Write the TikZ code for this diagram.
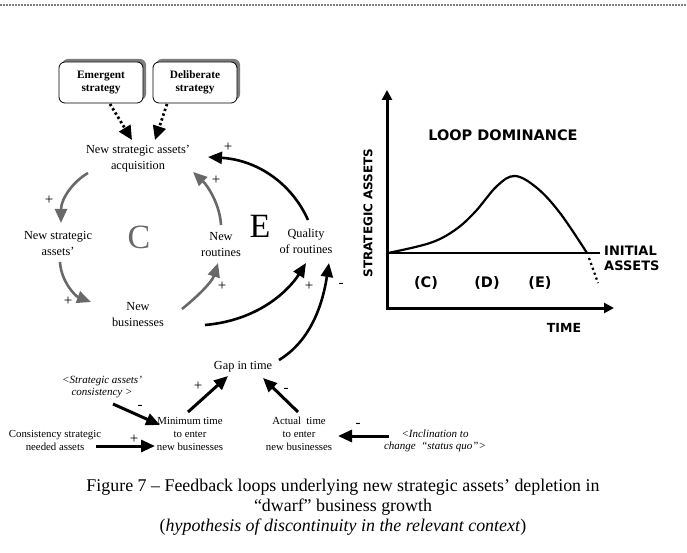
\documentclass[tikz,border=0pt]{standalone}
\usepackage{fontspec}
\setmainfont{Liberation Serif}
\newfontfamily\graphfont{DejaVu Sans}
\usetikzlibrary{arrows.meta}
\definecolor{loopgray}{RGB}{105,105,105}
\definecolor{shadowgray}{RGB}{125,125,125}
\tikzset{
  lbl/.style={align=center, inner sep=0pt, font=\fontsize{12.3}{16}\selectfont},
  small/.style={align=center, inner sep=0pt, font=\fontsize{10.8}{13}\selectfont},
  ital/.style={align=center, inner sep=0pt, font=\fontsize{11}{12.5}\selectfont\itshape},
  sign/.style={inner sep=0pt, font=\fontsize{15}{16}\selectfont},
  stratbox/.style={draw, thick, fill=white, rounded corners=6pt, minimum width=84pt,
    minimum height=41pt, align=center, inner sep=0pt, font=\fontsize{11.3}{13.5}\selectfont\bfseries},
  boxshadow/.style={fill=shadowgray, rounded corners=6pt, minimum width=84pt,
    minimum height=41pt, inner sep=0pt},
  tip/.style={-{Triangle[length=14pt,width=12pt]}},
  garrow/.style={tip, draw=loopgray, line width=2.6pt},
  barrow/.style={tip, draw=black, line width=2.6pt},
  sarrow/.style={tip, draw=black, line width=3pt},
  darrow/.style={-{Triangle[length=14pt,width=13pt]}, line width=2.8pt, dash pattern=on 2.4pt off 2.6pt},
  gtext/.style={inner sep=0pt, font=\graphfont\bfseries\fontsize{13}{15}\selectfont},
  big/.style={inner sep=0pt, font=\fontsize{34}{36}\selectfont}
}
\begin{document}
\begin{tikzpicture}[x=1pt,y=-1pt]
\useasboundingbox (0,0) rectangle (687,553);
\fill[white] (0,0) rectangle (687,553);

% dotted rule along the top
\draw[shadowgray, line width=2pt, dash pattern=on 2pt off 1pt] (0,5) -- (687,5);

% strategy boxes with drop shadows
\node[boxshadow] at (104,79.5) {};
\node[boxshadow] at (198,79.5) {};
\node[stratbox] (em) at (101,82.5) {Emergent\\strategy};
\node[stratbox] (de) at (195,82.5) {Deliberate\\strategy};

% causal loop variables
\node[lbl] (acq) at (138,159) {New strategic assets’\\acquisition};
\node[lbl] (nsa) at (58,243) {New strategic\\assets’};
\node[lbl] (nb) at (138,315) {New\\businesses};
\node[lbl] (nr) at (221,245) {New\\routines};
\node[lbl] (qr) at (306,241) {Quality\\of routines};
\node[lbl] (gap) at (243,367) {Gap in time};
\node[small] (mint) at (190,434) {Minimum time\\to enter\\new businesses};
\node[small] (act) at (299,434) {Actual~ time\\to enter\\new businesses};
\node[small] (csna) at (55,440) {Consistency strategic\\needed assets};
\node[ital] (sac) at (102,387) {<Strategic assets’\\consistency >};
\node[ital] (incl) at (435,441) {<Inclination to\\change ~“status quo”>};

% loop names
\node[big, text=loopgray] (cname) at (139,237) {C};
\node[big] (ename) at (260,226) {E};

% policy influences
\draw[darrow] ([shift={(9,21.5)}]em.center) -- ([shift={(-6,-19)}]acq.center);
\draw[darrow] ([shift={(-28,21.5)}]de.center) -- ([shift={(17,-19)}]acq.center);

% loop C
\draw[garrow] ([shift={(-50,14)}]acq.center) .. controls (74,181) and (61,198) .. ([shift={(3,-20)}]nsa.center);
\draw[garrow] ([shift={(2,19)}]nsa.center) .. controls (61,281) and (75,296) .. ([shift={(-47,-13)}]nb.center);
\draw[garrow] ([shift={(44,-6)}]nb.center) .. controls (198,296) and (212,282) .. ([shift={(-3,18)}]nr.center);
\draw[garrow] ([shift={(0,-20)}]nr.center) .. controls (220,205) and (208,186) .. ([shift={(55,13)}]acq.center);

% loop E
\draw[barrow] ([shift={(2,-21)}]qr.center) .. controls (292,184) and (258,160) .. ([shift={(70,-2)}]acq.center);
\draw[barrow] ([shift={(67,10)}]nb.center) .. controls (262,320) and (291,287) .. ([shift={(0,22)}]qr.center);
\draw[barrow] ([shift={(36,-7)}]gap.center) .. controls (312,340) and (323,302) .. ([shift={(23,22)}]qr.center);

% gap in time structure
\draw[sarrow] ([shift={(11,17)}]sac.center) -- ([shift={(-30,-9)}]mint.center);
\draw[sarrow] ([shift={(-2,-22)}]mint.center) -- ([shift={(-15,9)}]gap.center);
\draw[sarrow] ([shift={(-1,-22)}]act.center) -- ([shift={(20,11)}]gap.center);
\draw[sarrow] ([shift={(41,6)}]csna.center) -- ([shift={(-35,12)}]mint.center);
\draw[sarrow] ([shift={(-46,-5)}]incl.center) -- ([shift={(39,2)}]act.center);

% polarities
\node[sign] at (49,200) {+};
\node[sign] at (68,301) {+};
\node[sign] at (222,286) {+};
\node[sign] at (216,180) {+};
\node[sign] at (228,147) {+};
\node[sign] at (309,286) {+};
\node[sign] at (341,285) {-};
\node[sign] at (140,407) {-};
\node[sign] at (198,386) {+};
\node[sign] at (286,390) {-};
\node[sign] at (134,439) {+};
\node[sign] at (358,425) {-};

% loop dominance chart
\draw[line width=3pt, -{Triangle[length=10pt,width=10pt]}] (387,308) -- (387,90);
\draw[line width=3pt, -{Triangle[length=10pt,width=10pt]}] (386,308) -- (614,308);
\draw[line width=2pt] (387,253) -- (600,253);
\draw[line width=2.2pt, line cap=round] plot[smooth, tension=0.6] coordinates
  {(388,253) (430,243) (455,230) (475,212) (497,186) (515,176) (537,188) (560,213) (587,253)};
\draw[line width=2.2pt, dash pattern=on 2.2pt off 3pt] (589,258) -- (598,283);

\node[gtext, font=\graphfont\bfseries\fontsize{14.5}{16}\selectfont] (ld) at (503,135) {LOOP DOMINANCE};
\node[gtext, font=\graphfont\bfseries\fontsize{12}{14}\selectfont, rotate=90] (sa) at (368,213) {STRATEGIC ASSETS};
\node[gtext, align=left, anchor=west] (ia) at (604,258) {INITIAL\\ASSETS};
\node[gtext, font=\graphfont\bfseries\fontsize{12.5}{14}\selectfont] (tm) at (564,328) {TIME};
\node[gtext, font=\graphfont\bfseries\fontsize{14.5}{16}\selectfont] (pc) at (426,283) {(C)};
\node[gtext, font=\graphfont\bfseries\fontsize{14.5}{16}\selectfont] (pd) at (487,283) {(D)};
\node[gtext, font=\graphfont\bfseries\fontsize{14.5}{16}\selectfont] (pe) at (540,283) {(E)};

% caption
\node[align=center, inner sep=0pt, font=\fontsize{17.9}{20}\selectfont] (cap) at (343,507)
  {Figure 7 – Feedback loops underlying new strategic assets’ depletion in\\
   “dwarf” business growth\\
   (\textit{hypothesis of discontinuity in the relevant context})};
\end{tikzpicture}
\end{document}
